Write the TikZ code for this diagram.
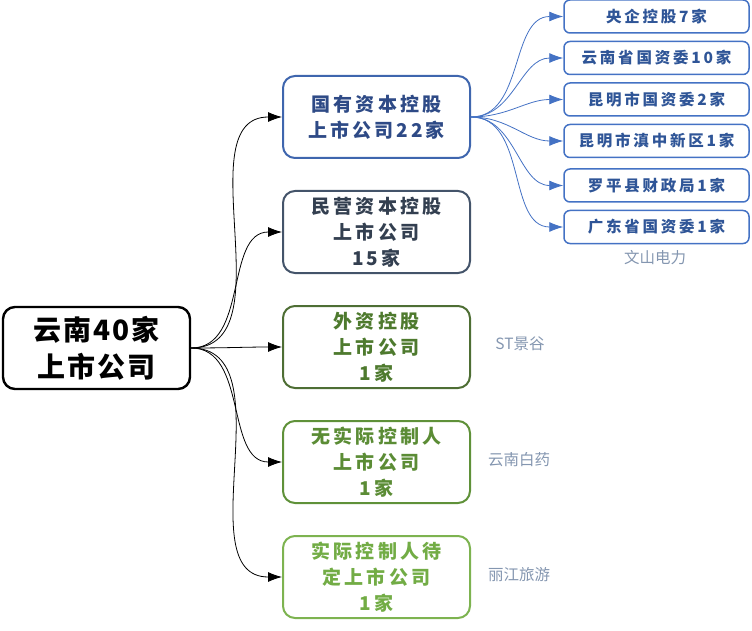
\documentclass[tikz,border=0pt]{standalone}
\usepackage{fontspec}
\setmainfont{Noto Sans CJK SC}
\usetikzlibrary{positioning,arrows.meta}

\definecolor{stateblue}{HTML}{3F66AE}
\definecolor{statetext}{HTML}{2E4A86}
\definecolor{subblue}{HTML}{4472C4}
\definecolor{subtext}{HTML}{2F5597}
\definecolor{privslate}{HTML}{44546A}
\definecolor{privtext}{HTML}{333F50}
\definecolor{forgreen}{HTML}{4E6E34}
\definecolor{fortext}{HTML}{4E7A2E}
\definecolor{nonegreen}{HTML}{5F9139}
\definecolor{nonetext}{HTML}{5B8C35}
\definecolor{tbdgreen}{HTML}{7DB350}
\definecolor{tbdtext}{HTML}{72AC45}
\definecolor{notegray}{HTML}{8496B0}

\begin{document}
\begin{tikzpicture}[x=1pt,y=1pt,
                    root/.style={draw,line width=2.4pt,rounded corners=12pt,align=center,
                                 minimum width=187pt,minimum height=82pt,
                                 font=\fontsize{28}{37}\selectfont\bfseries\addfontfeatures{LetterSpace=7}},
                    group/.style={draw,line width=2pt,rounded corners=12pt,align=center,
                                  minimum width=187pt,minimum height=82pt,inner sep=0pt,
                                  font=\fontsize{19}{26}\selectfont\bfseries\addfontfeatures{LetterSpace=16}},
                    owner/.style={draw=subblue,text=subtext,line width=1.5pt,rounded corners=6pt,
                                  minimum width=185pt,minimum height=33pt,inner sep=0pt,
                                  font=\fontsize{15.5}{18}\selectfont\bfseries\addfontfeatures{LetterSpace=18}},
                    note/.style={text=notegray,font=\fontsize{15.5}{18}\selectfont},
                    link/.style={-{Latex[length=14pt,width=10pt]},line width=0.8pt},
                    sublink/.style={-{Latex[length=14pt,width=10pt]},line width=0.8pt,
                                    draw=subblue}]
  \useasboundingbox (0,0) rectangle (752,-631);

  % root and the five groups
  \node[root] (yunnan) at (96.5,-348) {云南40家\\上市公司};
  \node[group,draw=stateblue,text=statetext] (state) at (376.5,-117)
    {国有资本控股\\上市公司22家};
  \node[group,draw=privslate,text=privtext] (private) at (376.5,-232)
    {民营资本控股\\上市公司\\15家};
  \node[group,draw=forgreen,text=fortext] (foreign) at (376.5,-347)
    {外资控股\\上市公司\\1家};
  \node[group,draw=nonegreen,text=nonetext] (nocontrol) at (376.5,-462)
    {无实际控制人\\上市公司\\1家};
  \node[group,draw=tbdgreen,text=tbdtext] (pending) at (376.5,-577)
    {实际控制人待\\定上市公司\\1家};

  % owners of the state group
  \node[owner] (central) at (656.5,-16.5) {央企控股7家};
  \node[owner] (province) at (656.5,-58) {云南省国资委10家};
  \node[owner] (kmcity) at (656.5,-99.5) {昆明市国资委2家};
  \node[owner] (dianzhong) at (656.5,-141) {昆明市滇中新区1家};
  \node[owner] (luoping) at (656.5,-185.5) {罗平县财政局1家};
  \node[owner] (guangdong) at (656.5,-227) {广东省国资委1家};

  % example companies
  \node[note] (wenshan) at (655,-258) {文山电力};
  \node[note] (jinggu) at (520,-344) {ST景谷};
  \node[note] (baiyao) at (519,-460) {云南白药};
  \node[note] (lijiang) at (519,-575) {丽江旅游};

  \foreach \g in {state,private,foreign,nocontrol,pending}
    \draw[link] (yunnan.east) to[out=0,in=180] (\g.west);
  \foreach \o in {central,province,kmcity,dianzhong,luoping,guangdong}
    \draw[sublink] (state.east) to[out=0,in=180] (\o.west);
\end{tikzpicture}
\end{document}
